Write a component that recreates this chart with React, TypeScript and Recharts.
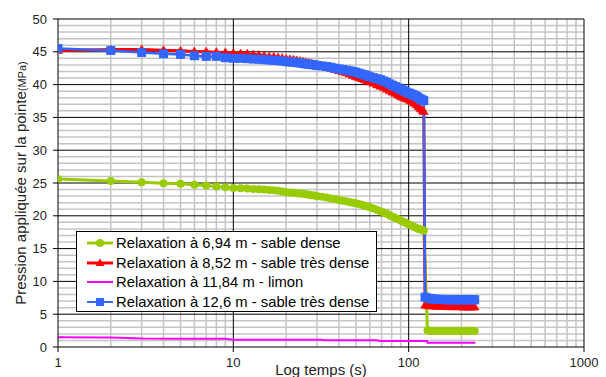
import React from 'react';
import { LineChart, Line, XAxis, YAxis, CartesianGrid } from 'recharts';

// Time stamps (s)
const T_HIGH = [
  1, 2, 3, 4, 5, 6, 7, 8, 9, 10, 11, 12, 13, 14, 15, 16, 17, 18, 19, 20,
  21, 22, 23, 24, 25, 26, 27, 28, 29, 30, 32, 34, 36, 38, 40, 42, 44, 46, 48, 50,
  52, 54, 56, 58, 60, 63, 66, 69, 72, 75, 78, 81, 84, 87, 90, 93, 96, 99, 102, 105,
  108, 111, 114, 117, 120, 122,
];
const T_LOW = [124, 129, 134, 139, 144, 149, 154, 159, 164, 169, 174, 179, 184, 189, 194, 199, 204, 209, 214, 219, 224, 229, 234, 238];
const T_LOW_GREEN = [128, 133, 138, 143, 148, 153, 158, 163, 168, 173, 178, 183, 188, 193, 198, 203, 208, 213, 218, 223, 228, 233, 238];

// Relaxation à 6,94 m - sable dense
const GREEN_HIGH = [
  25.6, 25.3, 25.1, 24.95, 24.9, 24.75, 24.6, 24.45, 24.35, 24.25, 24.2, 24.15, 24.1, 24.05, 24.0, 23.95, 23.9, 23.8, 23.7, 23.6,
  23.55, 23.5, 23.45, 23.4, 23.35, 23.3, 23.2, 23.15, 23.1, 23.0, 22.9, 22.8, 22.65, 22.55, 22.4, 22.3, 22.2, 22.1, 22.0, 21.9,
  21.8, 21.7, 21.55, 21.45, 21.3, 21.1, 20.9, 20.7, 20.5, 20.3, 20.05, 19.85, 19.65, 19.5, 19.3, 19.1, 18.95, 18.75, 18.6, 18.45,
  18.3, 18.15, 18.0, 17.9, 17.8, 17.75,
];
const GREEN_LOW = [2.5, 2.45, 2.45, 2.45, 2.45, 2.45, 2.45, 2.45, 2.45, 2.45, 2.45, 2.45, 2.45, 2.45, 2.45, 2.45, 2.45, 2.45, 2.45, 2.45, 2.45, 2.45, 2.45];

// Relaxation à 8,52 m - sable très dense
const RED_HIGH = [
  45.2, 45.35, 45.35, 45.25, 45.15, 45.05, 45.0, 44.95, 44.9, 44.8, 44.75, 44.7, 44.6, 44.5, 44.4, 44.3, 44.25, 44.15, 44.05, 43.95,
  43.85, 43.8, 43.7, 43.6, 43.5, 43.4, 43.3, 43.2, 43.1, 43.0, 42.85, 42.7, 42.5, 42.3, 42.1, 41.95, 41.8, 41.6, 41.4, 41.2,
  41.05, 40.9, 40.75, 40.55, 40.4, 40.2, 39.95, 39.75, 39.55, 39.3, 39.05, 38.85, 38.65, 38.4, 38.2, 38.05, 37.9, 37.75, 37.55, 37.35,
  37.15, 36.9, 36.6, 36.3, 36.05, 35.9,
];
const RED_LOW = [6.35, 6.3, 6.25, 6.25, 6.2, 6.2, 6.2, 6.2, 6.2, 6.15, 6.15, 6.15, 6.15, 6.15, 6.15, 6.15, 6.1, 6.1, 6.1, 6.1, 6.1, 6.1, 6.1, 6.1];

// Relaxation à 11,84 m - limon
const MAG_T = [1, 2, 3, 5, 9, 10, 20, 32, 33, 50, 67, 68, 100, 127, 128, 180, 240];
const MAG_V = [1.47, 1.45, 1.3, 1.27, 1.27, 1.12, 1.12, 1.12, 1.02, 1.02, 1.02, 0.91, 0.91, 0.91, 0.66, 0.66, 0.66];

// Relaxation à 12,6 m - sable très dense
const BLUE_HIGH = [
  45.5, 45.2, 44.9, 44.7, 44.6, 44.4, 44.3, 44.3, 44.1, 44.0, 44.0, 43.95, 43.9, 43.85, 43.8, 43.75, 43.7, 43.65, 43.6, 43.5,
  43.45, 43.4, 43.35, 43.3, 43.2, 43.15, 43.1, 43.05, 43.0, 42.9, 42.85, 42.75, 42.65, 42.5, 42.4, 42.3, 42.2, 42.1, 42.0, 41.9,
  41.75, 41.6, 41.5, 41.35, 41.2, 41.05, 40.9, 40.75, 40.55, 40.35, 40.1, 39.9, 39.7, 39.5, 39.3, 39.15, 38.95, 38.75, 38.65, 38.5,
  38.35, 38.2, 38.0, 37.8, 37.65, 37.55,
];
const BLUE_LOW = [7.6, 7.45, 7.35, 7.3, 7.3, 7.25, 7.25, 7.25, 7.2, 7.2, 7.2, 7.2, 7.2, 7.2, 7.2, 7.2, 7.2, 7.2, 7.2, 7.2, 7.2, 7.2, 7.2, 7.2];

const SERIES_NAMES = [
  'Relaxation à 6,94 m - sable dense',
  'Relaxation à 8,52 m - sable très dense',
  'Relaxation à 11,84 m - limon',
  'Relaxation à 12,6 m - sable très dense',
];
const COLORS = ['#99CC00', '#FF0000', '#FF00FF', '#3366FF'];

const X_TICKS = [1, 10, 100, 1000];
const Y_TICKS = [0, 5, 10, 15, 20, 25, 30, 35, 40, 45, 50];
const X_MINOR = [2, 3, 4, 5, 6, 7, 8, 9, 20, 30, 40, 50, 60, 70, 80, 90, 200, 300, 400, 500, 600, 700, 800, 900];
const X_MAJOR = [10, 100, 1000];
const Y_MINOR = [1, 2, 3, 4, 6, 7, 8, 9, 11, 12, 13, 14, 16, 17, 18, 19, 21, 22, 23, 24, 26, 27, 28, 29, 31, 32, 33, 34, 36, 37, 38, 39, 41, 42, 43, 44, 46, 47, 48, 49];
const Y_MAJOR = [5, 10, 15, 20, 25, 30, 35, 40, 45, 50];

const build = (ts: number[], vs: number[]) => ts.map((t, i) => ({ t, v: vs[i] }));
const greenData = [...build(T_HIGH, GREEN_HIGH), ...build(T_LOW_GREEN, GREEN_LOW)];
const redData = [...build(T_HIGH, RED_HIGH), ...build(T_LOW, RED_LOW)];
const magData = build(MAG_T, MAG_V);
const blueData = [...build(T_HIGH, BLUE_HIGH), ...build(T_LOW, BLUE_LOW)];

const FONT = '"Liberation Sans", Arial, sans-serif';

const Triangle = (props: any) => {
  const { cx, cy, index } = props;
  if (cx == null || cy == null) return <g key={`tri-${index}`} />;
  return (
    <path key={`tri-${index}`} d={`M${cx},${cy - 4.5} L${cx + 4.5},${cy + 3} L${cx - 4.5},${cy + 3} Z`} fill={COLORS[1]} stroke={COLORS[1]} strokeWidth={0.5} />
  );
};
const Square = (props: any) => {
  const { cx, cy, index } = props;
  if (cx == null || cy == null) return <g key={`sq-${index}`} />;
  return <rect key={`sq-${index}`} x={cx - 4.5} y={cy - 4.5} width={9} height={9} fill={COLORS[3]} />;
};

const markerFor = (i: number) => {
  if (i === 0) return <circle cx={13} cy={6} r={4} fill={COLORS[0]} />;
  if (i === 1) return <path d="M13,1.5 L17.5,9 L8.5,9 Z" fill={COLORS[1]} />;
  if (i === 3) return <rect x={9} y={2} width={8} height={8} fill={COLORS[3]} />;
  return null;
};

const LegendBox = () => (
  <div
    style={{
      position: 'absolute',
      left: 76,
      top: 231,
      width: 301,
      height: 81,
      boxSizing: 'border-box',
      border: '1px solid #000',
      background: '#fff',
      fontFamily: FONT,
      fontSize: 14.8,
      color: '#000',
    }}
  >
    {SERIES_NAMES.map((name, i) => (
      <div key={name} style={{ position: 'absolute', left: 0, top: 11 + i * 19.5 - 9, height: 18, width: 299, whiteSpace: 'nowrap' }}>
        <svg width={26} height={12} style={{ position: 'absolute', left: 10, top: 3 }}>
          <line x1={0} y1={6} x2={26} y2={6} stroke={COLORS[i]} strokeWidth={i === 2 || i === 3 ? 2 : 3} />
          {markerFor(i)}
        </svg>
        <span style={{ position: 'absolute', left: 39, top: 0, lineHeight: '18px' }}>{name}</span>
      </div>
    ))}
  </div>
);

export default function App() {
  return (
    <div style={{ position: 'absolute', left: 0, top: 0, width: 606, height: 377, background: '#fff', overflow: 'hidden' }}>
      <LineChart width={606} height={377} margin={{ top: 19, right: 22, bottom: 0, left: 0 }}>
        <CartesianGrid horizontalValues={Y_MINOR} verticalValues={X_MINOR} stroke="#c4c4c4" strokeWidth={1.5} />
        <CartesianGrid horizontalValues={Y_MAJOR} verticalValues={X_MAJOR} stroke="#000" strokeWidth={1} />
        <XAxis
          type="number"
          dataKey="t"
          scale="log"
          domain={[1, 1000]}
          ticks={X_TICKS}
          interval={0}
          allowDataOverflow
          height={30}
          stroke="#000"
          tickSize={5}
          tickMargin={6}
          tick={{ fill: '#222', fontSize: 13, fontFamily: FONT }}
          label={{
            content: () => (
              <text x={321} y={375} textAnchor="middle" fontSize={15} fontFamily={FONT} fill="#222">
                Log temps (s)
              </text>
            ),
          }}
        />
        <YAxis
          type="number"
          domain={[0, 50]}
          ticks={Y_TICKS}
          interval={0}
          width={58}
          stroke="#000"
          tickSize={5}
          tickMargin={6}
          tick={{ fill: '#222', fontSize: 13, fontFamily: FONT }}
          label={{
            content: () => (
              <text transform="translate(26,183) rotate(-90)" x={0} y={0} textAnchor="middle" fontSize={15} fontFamily={FONT} fill="#222">
                <tspan>Pression appliquée sur la pointe</tspan>
                <tspan fontSize={11}>(MPa)</tspan>
              </text>
            ),
          }}
        />
        <Line data={greenData} dataKey="v" name={SERIES_NAMES[0]} stroke={COLORS[0]} strokeWidth={3} dot={{ r: 4, fill: COLORS[0], stroke: COLORS[0], strokeWidth: 0 }} isAnimationActive={false} />
        <Line data={redData} dataKey="v" name={SERIES_NAMES[1]} stroke={COLORS[1]} strokeWidth={3} dot={Triangle} isAnimationActive={false} />
        <Line data={magData} dataKey="v" name={SERIES_NAMES[2]} stroke={COLORS[2]} strokeWidth={2} dot={false} isAnimationActive={false} />
        <Line data={blueData} dataKey="v" name={SERIES_NAMES[3]} stroke={COLORS[3]} strokeWidth={2.5} dot={Square} isAnimationActive={false} />
      </LineChart>
      <LegendBox />
    </div>
  );
}
